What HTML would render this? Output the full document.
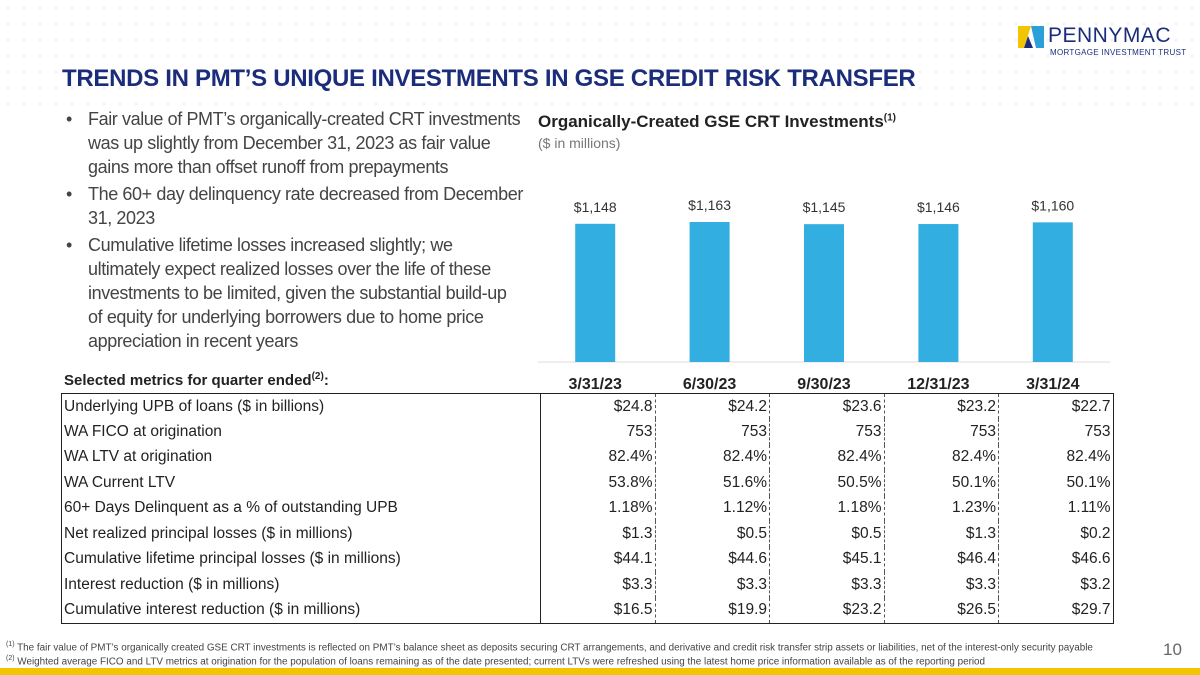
<!DOCTYPE html>
<html><head><meta charset="utf-8"><style>
*{margin:0;padding:0;box-sizing:border-box}
body{width:1200px;height:675px;position:relative;background:#fff;font-family:"Liberation Sans",sans-serif;overflow:hidden;color:#222}
.abs{position:absolute}
#dots{left:0;top:0;width:1200px;height:110px;background-image:radial-gradient(#eef0f4 1.3px,transparent 1.6px);background-size:16px 16px;opacity:.9}
h1{position:absolute;left:62px;top:65px;font-size:24px;font-weight:bold;color:#1b2d7a;letter-spacing:-0.3px;white-space:nowrap}
ul{position:absolute;left:66px;top:107px;width:480px;list-style:none;font-size:18px;line-height:24px;color:#444;letter-spacing:-0.4px;white-space:nowrap}
ul li{position:relative;padding-left:22px;margin-bottom:3px}
ul li:before{content:"•";position:absolute;left:0}
table{position:absolute;left:61px;top:393px;border-collapse:collapse;border:1.5px solid #222;font-size:15.5px}
td{height:25.5px;padding:0 2px}
td.l{width:479px;border-right:1.5px solid #222}
td.v{width:114.5px;text-align:right;border-right:1px dashed #555}
td.v:last-child{border-right:none}
.fn{left:6px;font-size:9.9px;color:#444;white-space:nowrap}
</style></head><body>
<div class="abs" id="dots"></div>
<div class="abs" style="left:1018px;top:24px;width:170px;height:36px">
<svg width="26" height="22" class="abs" style="left:0;top:2px"><polygon points="0,0 13,0 6,22 0,22" fill="#f2c500"/><polygon points="13,0 26,0 26,22 18,22" fill="#2a9fd8"/><polygon points="10,10 15,22 6,22" fill="#1b2d7a"/></svg>
<div class="abs" style="left:30px;top:0;font-size:21px;color:#1b2d7a;letter-spacing:0.5px">PENNYMAC</div>
<div class="abs" style="left:32px;top:24px;font-size:8px;color:#1b2d7a;letter-spacing:0.3px">MORTGAGE INVESTMENT TRUST</div>
</div>
<h1>TRENDS IN PMT’S UNIQUE INVESTMENTS IN GSE CREDIT RISK TRANSFER</h1>
<ul>
<li>Fair value of PMT’s organically-created CRT investments<br>was up slightly from December 31, 2023 as fair value<br>gains more than offset runoff from prepayments</li>
<li>The 60+ day delinquency rate decreased from December<br>31, 2023</li>
<li>Cumulative lifetime losses increased slightly; we<br>ultimately expect realized losses over the life of these<br>investments to be limited, given the substantial build-up<br>of equity for underlying borrowers due to home price<br>appreciation in recent years</li>
</ul>
<div class="abs" style="left:538px;top:112px;font-size:17px;font-weight:bold;color:#222;white-space:nowrap">Organically-Created GSE CRT Investments<sup style="font-size:10px">(1)</sup></div>
<div class="abs" style="left:538px;top:135px;font-size:14px;color:#777">($ in millions)</div>
<svg class="abs" id="chart" style="left:0;top:0" width="1200" height="400"></svg>
<div class="abs" style="left:64px;top:371px;font-size:15px;font-weight:bold">Selected metrics for quarter ended<sup style="font-size:10px">(2)</sup>:</div>
<table>
<tr><td class="l">Underlying UPB of loans ($ in billions)</td><td class="v">$24.8</td><td class="v">$24.2</td><td class="v">$23.6</td><td class="v">$23.2</td><td class="v">$22.7</td></tr>
<tr><td class="l">WA FICO at origination</td><td class="v">753</td><td class="v">753</td><td class="v">753</td><td class="v">753</td><td class="v">753</td></tr>
<tr><td class="l">WA LTV at origination</td><td class="v">82.4%</td><td class="v">82.4%</td><td class="v">82.4%</td><td class="v">82.4%</td><td class="v">82.4%</td></tr>
<tr><td class="l">WA Current LTV</td><td class="v">53.8%</td><td class="v">51.6%</td><td class="v">50.5%</td><td class="v">50.1%</td><td class="v">50.1%</td></tr>
<tr><td class="l">60+ Days Delinquent as a % of outstanding UPB</td><td class="v">1.18%</td><td class="v">1.12%</td><td class="v">1.18%</td><td class="v">1.23%</td><td class="v">1.11%</td></tr>
<tr><td class="l">Net realized principal losses ($ in millions)</td><td class="v">$1.3</td><td class="v">$0.5</td><td class="v">$0.5</td><td class="v">$1.3</td><td class="v">$0.2</td></tr>
<tr><td class="l">Cumulative lifetime principal losses ($ in millions)</td><td class="v">$44.1</td><td class="v">$44.6</td><td class="v">$45.1</td><td class="v">$46.4</td><td class="v">$46.6</td></tr>
<tr><td class="l">Interest reduction ($ in millions)</td><td class="v">$3.3</td><td class="v">$3.3</td><td class="v">$3.3</td><td class="v">$3.3</td><td class="v">$3.2</td></tr>
<tr><td class="l">Cumulative interest reduction ($ in millions)</td><td class="v">$16.5</td><td class="v">$19.9</td><td class="v">$23.2</td><td class="v">$26.5</td><td class="v">$29.7</td></tr>
</table>
<div class="abs fn" style="top:641px"><sup style="font-size:7px">(1)</sup> The fair value of PMT’s organically created GSE CRT investments is reflected on PMT’s balance sheet as deposits securing CRT arrangements, and derivative and credit risk transfer strip assets or liabilities, net of the interest-only security payable</div>
<div class="abs fn" style="top:655px"><sup style="font-size:7px">(2)</sup> Weighted average FICO and LTV metrics at origination for the population of loans remaining as of the date presented; current LTVs were refreshed using the latest home price information available as of the reporting period</div>
<div class="abs" style="left:1163px;top:640px;font-size:17px;color:#666">10</div>
<div class="abs" style="left:0;top:668px;width:1200px;height:7px;background:#f5c400"></div>
<script>
const categories=["3/31/23","6/30/23","9/30/23","12/31/23","3/31/24"];
const values=[1148,1163,1145,1146,1160];
const valueLabels=["$1,148","$1,163","$1,145","$1,146","$1,160"];
const svg=document.getElementById('chart');
const NS="http://www.w3.org/2000/svg";
const x0=538,step=114.4,base=362,bw=40,maxV=1163,maxH=140;
const xc=i=>x0+step*(i+0.5);
const yv=v=>base-v/maxV*maxH;
const ax=document.createElementNS(NS,'line');


ax.setAttribute('x1',x0);ax.setAttribute('x2',x0+step*5);ax.setAttribute('y1',base);ax.setAttribute('y2',base);ax.setAttribute('stroke','#ddd');
svg.appendChild(ax);
values.forEach((v,i)=>{
 const r=document.createElementNS(NS,'rect');
 
 
 r.setAttribute('x',xc(i)-bw/2);r.setAttribute('y',yv(v));r.setAttribute('width',bw);r.setAttribute('height',base-yv(v));r.setAttribute('fill','#33aee0');
 svg.appendChild(r);
 const t=document.createElementNS(NS,'text');
 
 
 t.setAttribute('x',xc(i));t.setAttribute('y',yv(v)-12);t.setAttribute('text-anchor','middle');t.setAttribute('font-size','14');t.setAttribute('fill','#333');
 t.textContent=valueLabels[i];svg.appendChild(t);
 const c=document.createElementNS(NS,'text');
 
 
 c.setAttribute('x',xc(i));c.setAttribute('y',389);c.setAttribute('text-anchor','middle');c.setAttribute('font-size','16');c.setAttribute('font-weight','bold');c.setAttribute('fill','#222');
 c.textContent=categories[i];svg.appendChild(c);
});
</script>
</body></html>
